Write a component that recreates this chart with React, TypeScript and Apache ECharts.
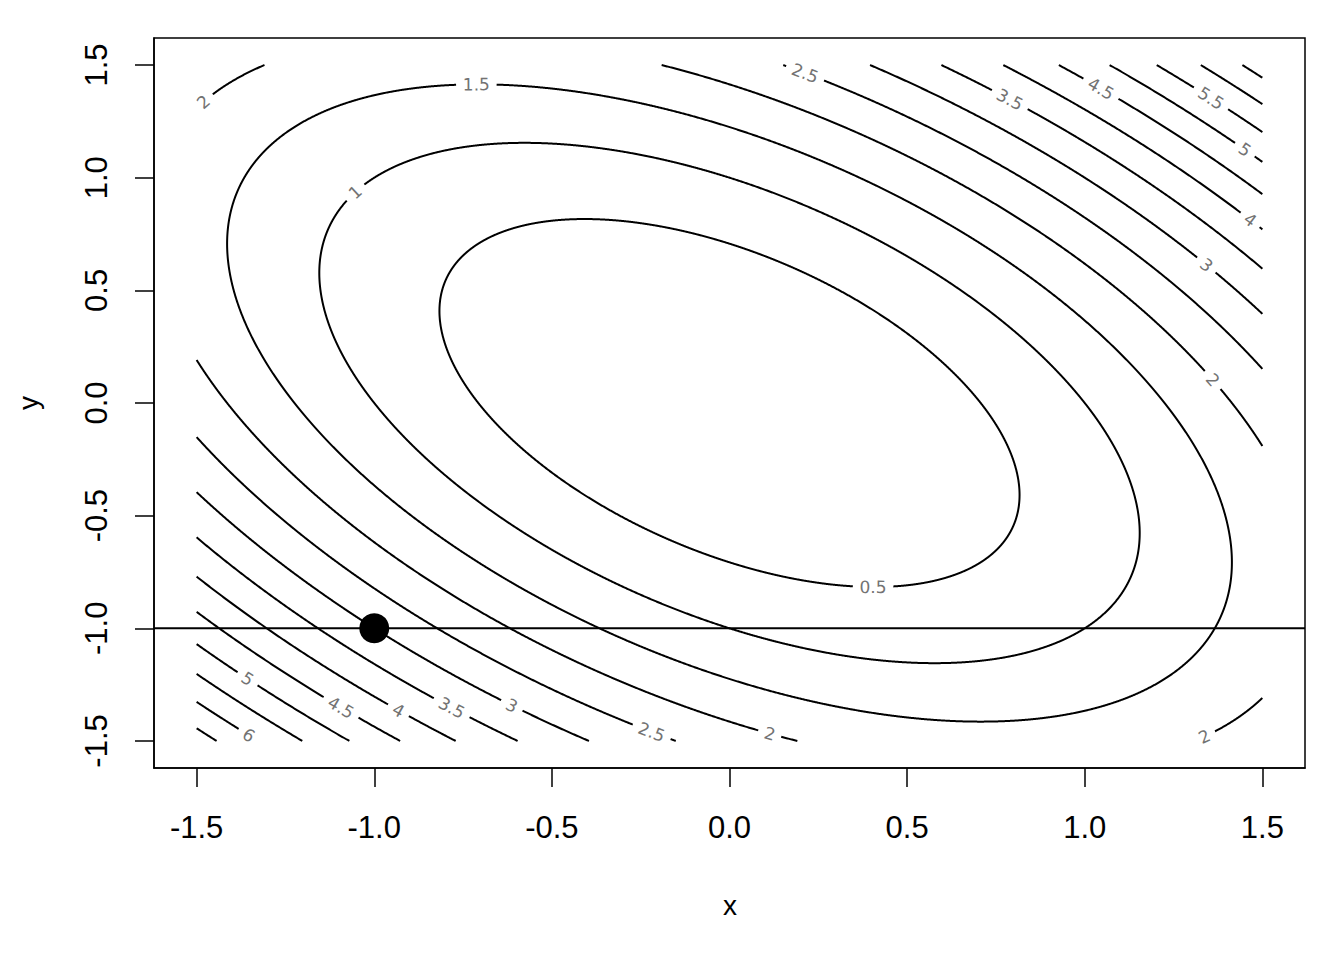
import React, { useEffect, useRef } from "react";
import * as echarts from "echarts";

// Surface z = cXX*x^2 + cXY*x*y + cYY*y^2, drawn as contour lines
const cXX = 1;
const cXY = 1;
const cYY = 1;
const levels = [0.5, 1, 1.5, 2, 2.5, 3, 3.5, 4, 4.5, 5, 5.5, 6, 6.5];
const gridMin = -1.5;
const gridMax = 1.5;
const tickValues = [-1.5, -1, -0.5, 0, 0.5, 1, 1.5];

// contour labels: level and approximate position
const labelLevels = [2, 1.5, 1, 2.5, 3.5, 4.5, 5.5, 5, 4, 3, 2, 0.5, 2, 2, 2.5, 3, 3.5, 4, 4.5, 5, 6];
const labelXs = [-1.48, -0.709, -1.055, 0.211, 0.788, 1.041, 1.357, 1.449, 1.464, 1.343, 1.357, 0.4, 1.334, 0.113, -0.22, -0.614, -0.788, -0.934, -1.103, -1.362, -1.349];
const labelYs = [1.336, 1.407, 0.937, 1.451, 1.345, 1.389, 1.354, 1.123, 0.812, 0.613, 0.102, -0.808, -1.478, -1.465, -1.465, -1.345, -1.363, -1.367, -1.363, -1.229, -1.47];

const pointX = [-1];
const pointY = [-1];
const hLineY = -1;

const axisMin = -1.62;
const axisMax = 1.62;

const GRID = { left: 154, right: 39, top: 38, bottom: 192 };
const W = 1344;
const H = 960;
const SX = (W - GRID.left - GRID.right) / (axisMax - axisMin);
const SY = (H - GRID.top - GRID.bottom) / (axisMax - axisMin);
const LABEL_FONT = 17;

function surf(x: number, y: number) {
  return cXX * x * x + cXY * x * y + cYY * y * y;
}

function labelText(l: number) {
  return String(l);
}
function labelWidth(s: string) {
  let w = 0;
  for (const ch of s) w += ch === "." ? 0.34 : 0.64;
  return w * LABEL_FONT;
}

type Lab = { level: number; x: number; y: number; text: string; half: number; angle: number };

function buildLabels(): Lab[] {
  return labelLevels.map((lv, i) => {
    const f = surf(labelXs[i], labelYs[i]);
    const s = Math.sqrt(lv / f);
    const x = labelXs[i] * s;
    const y = labelYs[i] * s;
    const gx = 2 * cXX * x + cXY * y;
    const gy = cXY * x + 2 * cYY * y;
    const tx = -gy * SX;
    const ty = gx * SY;
    let a = Math.atan2(ty, tx);
    if (a > Math.PI / 2) a -= Math.PI;
    if (a <= -Math.PI / 2) a += Math.PI;
    const text = labelText(lv);
    return { level: lv, x, y, text, half: labelWidth(text) / 2 + 6.5, angle: a };
  });
}

function buildContours(labels: Lab[]): number[][][] {
  const out: number[][][] = [];
  const lam1 = cXX + cXY / 2; // along (1,1)
  const lam2 = cXX - cXY / 2; // along (1,-1)
  for (const lv of levels) {
    const su = Math.sqrt(lv / lam1);
    const sv = Math.sqrt(lv / lam2);
    const labs = labels.filter((l) => l.level === lv);
    const pt = (t: number) => {
      const u = su * Math.cos(t);
      const v = sv * Math.sin(t);
      return [(u + v) / Math.SQRT2, (u - v) / Math.SQRT2];
    };
    const inside = (p: number[]) => {
      if (p[0] < gridMin || p[0] > gridMax || p[1] < gridMin || p[1] > gridMax) return false;
      for (const l of labs) {
        const dx = (p[0] - l.x) * SX;
        const dy = (p[1] - l.y) * SY;
        if (dx * dx + dy * dy < l.half * l.half) return false;
      }
      return true;
    };
    const N = 4000;
    const ts: number[] = [];
    for (let i = 0; i < N; i++) ts.push((i / N) * Math.PI * 2);
    let start = -1;
    for (let i = 0; i < N; i++) {
      if (!inside(pt(ts[i]))) {
        start = i;
        break;
      }
    }
    if (start < 0) {
      const poly = ts.map(pt);
      poly.push(poly[0]);
      out.push(poly);
      continue;
    }
    const bisect = (t0: number, t1: number) => {
      const s0 = inside(pt(t0));
      let a = t0,
        b = t1;
      for (let k = 0; k < 40; k++) {
        const m = (a + b) / 2;
        if (inside(pt(m)) === s0) a = m;
        else b = m;
      }
      return s0 ? pt(a) : pt(b);
    };
    let cur: number[][] | null = null;
    let prevT = ts[start];
    let prevIn = false;
    for (let k = 1; k <= N; k++) {
      const t = ts[start] + (k / N) * Math.PI * 2;
      const p = pt(t);
      const isIn = inside(p);
      if (isIn && !prevIn) {
        cur = [bisect(prevT, t), p];
      } else if (isIn && prevIn) {
        cur!.push(p);
      } else if (!isIn && prevIn) {
        cur!.push(bisect(prevT, t));
        if (cur!.length > 1) out.push(cur!);
        cur = null;
      }
      prevT = t;
      prevIn = isIn;
    }
    if (cur && cur.length > 1) out.push(cur);
  }
  return out;
}

export default function App() {
  const ref = useRef<HTMLDivElement>(null);
  useEffect(() => {
    if (!ref.current) return;
    const chart = echarts.init(ref.current, null, { renderer: "svg" });
    const labels = buildLabels();
    const polys = buildContours(labels);
    const font = "Liberation Sans";
    const axisCommon = {
      type: "value",
      min: axisMin,
      max: axisMax,
      splitLine: { show: false },
      axisLine: { show: true, onZero: false, lineStyle: { color: "#000", width: 1.5 } },
      axisTick: { show: true, inside: false, customValues: tickValues, length: 19, lineStyle: { color: "#000", width: 1.5 } },
    };
    chart.setOption({
      animation: false,
      backgroundColor: "#fff",
      grid: { ...GRID, show: true, borderColor: "#000", borderWidth: 1.5, containLabel: false },
      xAxis: {
        ...axisCommon,
        axisLabel: {
          customValues: tickValues,
          formatter: (v: number) => v.toFixed(1),
          fontSize: 31,
          fontFamily: font,
          color: "#000",
          margin: 44,
        },
      },
      yAxis: {
        ...axisCommon,
        axisLabel: {
          customValues: tickValues,
          formatter: (v: number) => v.toFixed(1),
          fontSize: 31,
          fontFamily: font,
          color: "#000",
          rotate: 90,
          margin: 42,
        },
      },
      graphic: [
        { type: "text", x: 730, y: 905, style: { text: "x", font: `28px "${font}"`, fill: "#000", align: "center", verticalAlign: "middle", textAlign: "center", textVerticalAlign: "middle" } },
        { type: "text", x: 28, y: 403, rotation: Math.PI / 2, style: { text: "y", font: `28px "${font}"`, fill: "#000", align: "center", verticalAlign: "middle", textAlign: "center", textVerticalAlign: "middle" } },
      ],
      series: [
        {
          type: "custom",
          coordinateSystem: "cartesian2d",
          data: polys.map((p) => p[0]),
          renderItem: (params: any, api: any) => {
            const poly = polys[params.dataIndex];
            const points = poly.map((p) => api.coord(p));
            return {
              type: "polyline",
              shape: { points },
              style: { stroke: "#000", lineWidth: 2, fill: null },
              silent: true,
            };
          },
          z: 2,
        },
        {
          type: "custom",
          coordinateSystem: "cartesian2d",
          data: labels.map((l) => [l.x, l.y]),
          renderItem: (params: any, api: any) => {
            const l = labels[params.dataIndex];
            const c = api.coord([l.x, l.y]);
            return {
              type: "text",
              x: c[0],
              y: c[1],
              rotation: l.angle,
              style: {
                text: l.text,
                fill: "#737373",
                font: `${LABEL_FONT}px "DejaVu Sans"`,
                align: "center",
                verticalAlign: "middle",
                textAlign: "center",
                textVerticalAlign: "middle",
              },
              silent: true,
            };
          },
          z: 3,
        },
        {
          type: "line",
          data: [
            [axisMin, hLineY],
            [axisMax, hLineY],
          ],
          showSymbol: false,
          lineStyle: { color: "#000", width: 2 },
          z: 2,
        },
        {
          type: "scatter",
          data: pointX.map((x, i) => [x, pointY[i]]),
          symbolSize: 30,
          itemStyle: { color: "#000", opacity: 1 },
          z: 4,
        },
      ],
    });
    return () => chart.dispose();
  }, []);
  return <div ref={ref} style={{ position: "fixed", left: 0, top: 0, width: W, height: H }} />;
}
